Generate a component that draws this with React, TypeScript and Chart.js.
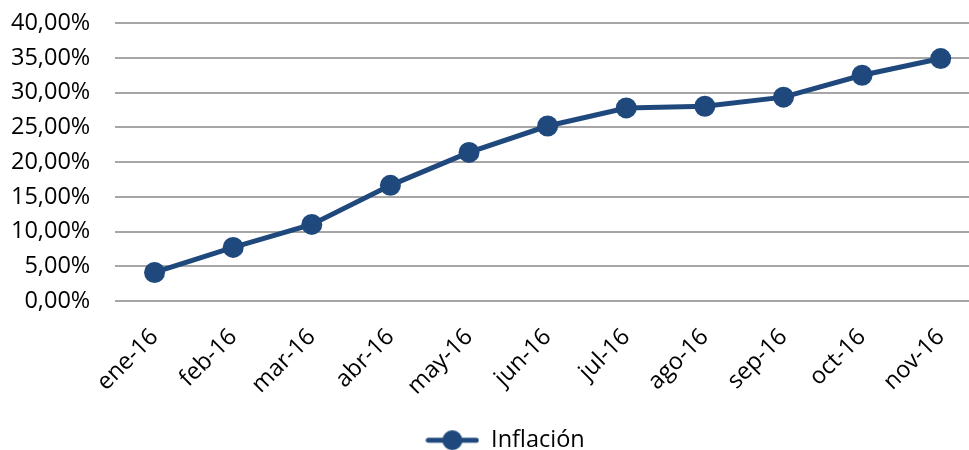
import React, { useEffect, useRef } from "react";
import { Chart, registerables } from "chart.js";

Chart.register(...registerables);

const categories = ["ene-16", "feb-16", "mar-16", "abr-16", "may-16", "jun-16", "jul-16", "ago-16", "sep-16", "oct-16", "nov-16"];
const inflacion = [4.14, 7.74, 11.05, 16.67, 21.4, 25.2, 27.8, 28.05, 29.35, 32.5, 34.9];
const seriesName = "Inflación";
const yMin = 0;
const yMax = 40;
const yStep = 5;

const LINE_COLOR = "#1F497D";
const FONT = "'Open Sans', sans-serif";
const FONT_SIZE = 23.5;

function makeLegendIcon(): HTMLCanvasElement {
  const c = document.createElement("canvas");
  c.width = 54;
  c.height = 22;
  const ctx = c.getContext("2d")!;
  ctx.strokeStyle = LINE_COLOR;
  ctx.lineWidth = 5;
  ctx.lineCap = "round";
  ctx.beginPath();
  ctx.moveTo(3, 11);
  ctx.lineTo(51, 11);
  ctx.stroke();
  ctx.fillStyle = LINE_COLOR;
  ctx.beginPath();
  ctx.arc(27, 11, 10, 0, Math.PI * 2);
  ctx.fill();
  return c;
}

export default function App() {
  const ref = useRef<HTMLCanvasElement>(null);

  useEffect(() => {
    if (!ref.current) return;
    const icon = makeLegendIcon();
    const chart = new Chart(ref.current, {
      type: "line",
      data: {
        labels: categories,
        datasets: [
          {
            label: seriesName,
            data: inflacion,
            borderColor: LINE_COLOR,
            backgroundColor: LINE_COLOR,
            borderWidth: 5,
            pointRadius: 10.5,
            pointHoverRadius: 10.5,
            pointBackgroundColor: LINE_COLOR,
            pointBorderWidth: 0,
            tension: 0,
          },
        ],
      },
      options: {
        responsive: false,
        animation: false,
        devicePixelRatio: 1,
        layout: { padding: { left: 10, right: 10, top: 0, bottom: 0 } },
        scales: {
          x: {
            offset: true,
            grid: { display: false },
            border: { display: false },
            ticks: {
              color: "#000",
              font: { family: FONT, size: FONT_SIZE },
              maxRotation: 45,
              minRotation: 45,
              padding: 14,
            },
          },
          y: {
            min: yMin,
            max: yMax,
            grid: { color: "#A6A6A6", lineWidth: 2, drawTicks: false },
            border: { display: false },
            ticks: {
              stepSize: yStep,
              color: "#000",
              padding: 25,
              font: { family: FONT, size: FONT_SIZE },
              callback: (v: any) => Number(v).toFixed(2).replace(".", ",") + "%",
            },
          },
          spacer: {
            type: "linear",
            position: "right",
            display: true,
            grid: { display: false },
            border: { display: false },
            ticks: { display: false },
            afterFit: (scale: any) => {
              scale.width = 44;
            },
          },
        },
        plugins: {
          tooltip: { enabled: false },
          legend: {
            position: "bottom",
            labels: {
              usePointStyle: true,
              pointStyleWidth: 54,
              color: "#000",
              font: { family: FONT, size: FONT_SIZE },
              padding: 14,
              generateLabels: (ch: any) =>
                ch.data.datasets.map((d: any, i: number) => ({
                  text: d.label,
                  fillStyle: LINE_COLOR,
                  strokeStyle: LINE_COLOR,
                  pointStyle: icon,
                  datasetIndex: i,
                  hidden: false,
                  lineWidth: 0,
                })),
            },
          },
        },
      },
    });
    return () => chart.destroy();
  }, []);

  return (
    <div style={{ position: "fixed", left: 0, top: 0, width: 969, height: 450, overflow: "hidden", background: "#fff" }}>
      <canvas ref={ref} width={1058} height={478} style={{ position: "absolute", left: -24, top: -16, display: "block", width: 1058, height: 478 }} />
    </div>
  );
}
